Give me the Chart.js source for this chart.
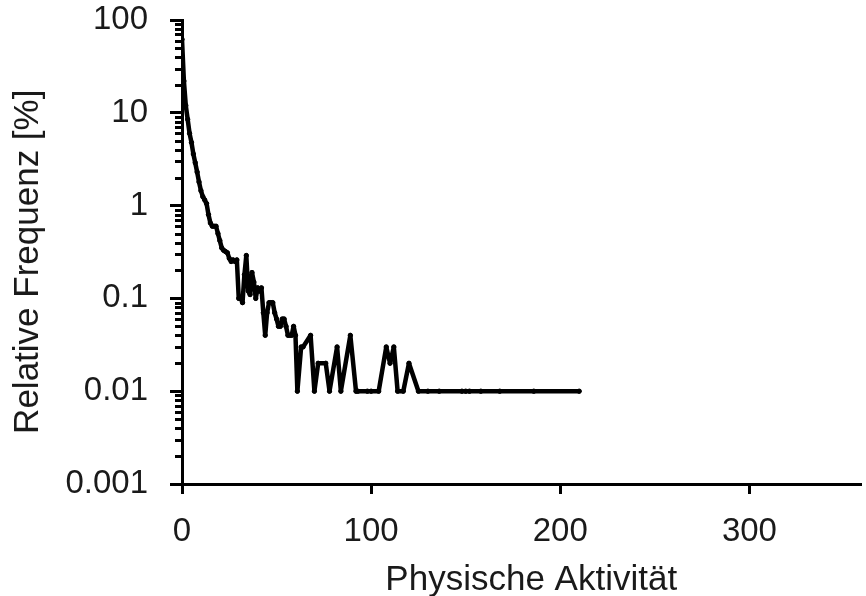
<!DOCTYPE html>
<html>
<head>
<meta charset="utf-8">
<script src="https://cdn.jsdelivr.net/npm/chart.js@4.4.1/dist/chart.umd.min.js"></script>
<style>
html,body{margin:0;padding:0;background:#fff;}
#wrap{width:866px;height:596px;}
</style>
</head>
<body>
<div id="wrap"><canvas id="c" width="866" height="596"></canvas></div>
<script>
// Physical activity value (x) and relative frequency in % (y)
const activity = [0,1,2,3,4,5,6,7,8,9,10,11,12,13,14,15,16,17,18,19,20,21,22,23,24,25,26,27,28,29,30,31,32,33,34,35,36,37,38,39,40,41,42,43,44,45,46,47,48,49,50,51,52,53,54,55,56,57,58,59,60,61,63,64,68,70,72,76,78,82,84,89,92,93,98,100,104,108,110,112,114,117,120,125,130,136,148,150,152,158,168,186,210];
const frequency = [62,22,12,8.5,6,4.8,3.6,2.9,2.3,1.8,1.45,1.25,1.15,1.05,0.8,0.65,0.6,0.6,0.6,0.5,0.42,0.35,0.33,0.32,0.31,0.27,0.25,0.26,0.25,0.26,0.1,0.1,0.09,0.18,0.29,0.12,0.11,0.19,0.15,0.1,0.13,0.12,0.13,0.07,0.04,0.07,0.09,0.09,0.09,0.07,0.06,0.05,0.05,0.06,0.06,0.05,0.04,0.04,0.04,0.05,0.04,0.01,0.03,0.03,0.04,0.01,0.02,0.02,0.01,0.03,0.01,0.04,0.01,0.01,0.01,0.01,0.01,0.03,0.02,0.03,0.01,0.01,0.02,0.01,0.01,0.01,0.01,0.01,0.01,0.01,0.01,0.01,0.01];
const xTicks = [0,100,200,300];
const yMajorTicks = [0.001,0.01,0.1,1,10,100];
const yTickLabels = ['0.001','0.01','0.1','1','10','100'];
const xTitle = 'Physische Aktivität';
const yTitle = 'Relative Frequenz [%]';

const points = activity.map((x,i)=>({x:x,y:frequency[i]}));

const minorTicks = {
  id:'minorTicks',
  afterDraw(chart){
    const s = chart.scales.y;
    const ctx = chart.ctx;
    ctx.save();
    ctx.strokeStyle = '#000';
    ctx.lineWidth = 3;
    for (let d = 0; d < yMajorTicks.length-1; d++){
      for (let m = 2; m <= 9; m++){
        const v = yMajorTicks[d]*m;
        const py = Math.round(s.getPixelForValue(v))+0.5;
        ctx.beginPath();
        ctx.moveTo(s.right-7, py);
        ctx.lineTo(s.right, py);
        ctx.stroke();
      }
    }
    ctx.restore();
  }
};

const FONT = 'Liberation Sans, Arial, sans-serif';
const NB = '\u00A0\u00A0';

new Chart(document.getElementById('c'), {
  type:'scatter',
  data:{datasets:[{
    data:points,
    showLine:true,
    borderColor:'#000',
    backgroundColor:'#000',
    borderWidth:4.5,
    pointRadius:2.2,
    pointBorderWidth:1,
    pointBorderColor:'#000',
    borderJoinStyle:'round',
    borderCapStyle:'round',
    tension:0
  }]},
  options:{
    responsive:false,
    animation:false,
    devicePixelRatio:1,
    layout:{padding:{top:20,right:0,left:0,bottom:0}},
    plugins:{legend:{display:false},tooltip:{enabled:false}},
    scales:{
      x:{
        type:'linear',
        min:0,max:359,
        afterFit(s){ s.height = 112; },
        afterBuildTicks(s){ s.ticks = xTicks.map(v=>({value:v})); },
        border:{display:true,color:'#000',width:3},
        grid:{drawOnChartArea:false,drawTicks:true,tickLength:10,tickWidth:3,tickColor:'#000'},
        ticks:{color:'#1a1a1a',font:{family:FONT,size:33},padding:18,maxRotation:0,autoSkip:false,callback:(v)=>String(v)},
        title:{display:true,text:NB+xTitle,color:'#1a1a1a',font:{family:FONT,size:35,lineHeight:1},padding:{top:0,bottom:-2}}
      },
      y:{
        type:'logarithmic',
        min:0.001,max:100,
        afterFit(s){ s.width = 182; s.paddingTop = 0; s.paddingBottom = 0; },
        afterBuildTicks(s){ s.ticks = yMajorTicks.map(v=>({value:v,major:true})); },
        border:{display:true,color:'#000',width:3},
        grid:{drawOnChartArea:false,drawTicks:true,tickLength:12,tickWidth:3,tickColor:'#000'},
        ticks:{color:'#1a1a1a',font:{family:FONT,size:33},padding:22,autoSkip:false,
          callback:(v)=>{const i=yMajorTicks.findIndex(t=>Math.abs(t-v)/t<1e-6);return i>=0?yTickLabels[i]:'';}},
        title:{display:true,text:yTitle+NB,color:'#1a1a1a',font:{family:FONT,size:35,lineHeight:1},padding:{top:11,bottom:0}}
      }
    }
  },
  plugins:[minorTicks]
});
</script>
</body>
</html>
